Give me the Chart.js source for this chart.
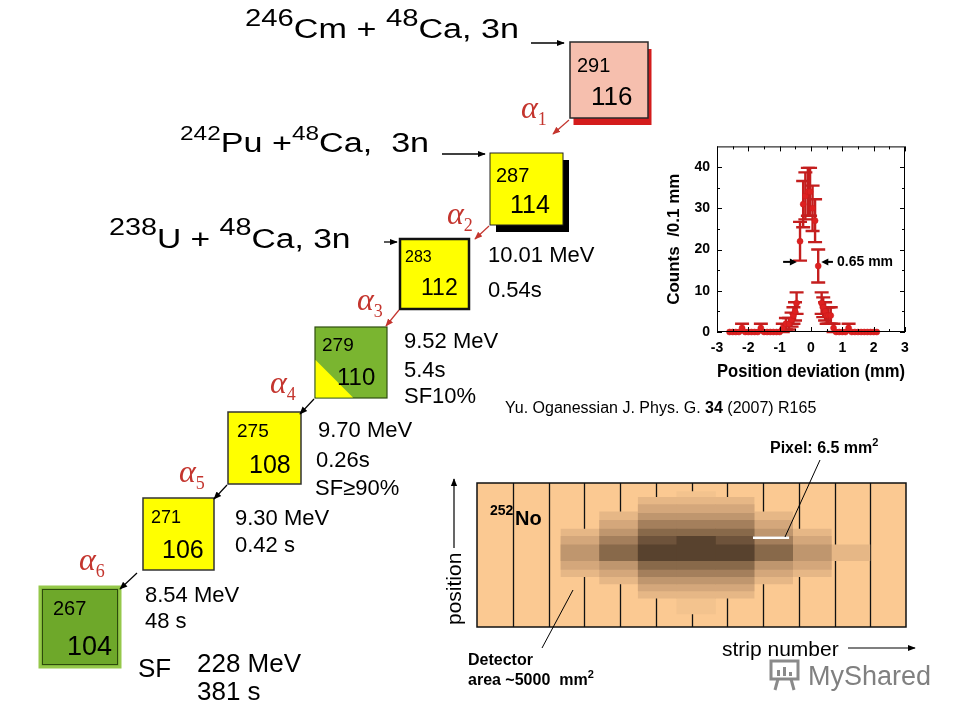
<!DOCTYPE html>
<html>
<head>
<meta charset="utf-8">
<title>Element 116 decay chain</title>
<script src="https://cdn.jsdelivr.net/npm/chart.js@4.4.0/dist/chart.umd.min.js"></script>
<style>
  html, body { margin: 0; padding: 0; background: #fff; }
  #page { position: relative; width: 960px; height: 720px; overflow: hidden; }
  #countsChart { position: absolute; left: 660px; top: 131px; }
  #stripChart { position: absolute; left: 470px; top: 476px; }
  #art { position: absolute; left: 0; top: 0; }
  #art text { white-space: pre; }
</style>
</head>
<body>
<div id="page">
  <canvas id="countsChart" width="260" height="256"></canvas>
  <canvas id="stripChart" width="444" height="158"></canvas>

  <svg id="art" width="960" height="720" xmlns="http://www.w3.org/2000/svg">
    <defs>
      <marker id="hb" viewBox="0 0 10 10" refX="9" refY="5" markerWidth="8" markerHeight="8" markerUnits="userSpaceOnUse" orient="auto">
        <path d="M0,1 L10,5 L0,9 z" fill="#000"/>
      </marker>
      <marker id="hr" viewBox="0 0 10 10" refX="9" refY="5" markerWidth="8" markerHeight="8" markerUnits="userSpaceOnUse" orient="auto">
        <path d="M0,1 L10,5 L0,9 z" fill="#c4352e"/>
      </marker>
    </defs>

    <g font-family="'Liberation Sans', Arial, sans-serif" fill="#000">
      <!-- reactions -->
      <g transform="translate(245,38) scale(1.22,1)">
        <text font-size="28"><tspan font-size="24" dy="-12">246</tspan><tspan dy="12">Cm + </tspan><tspan font-size="24" dy="-12">48</tspan><tspan dy="12">Ca, 3n</tspan></text>
      </g>
      <g transform="translate(180,152) scale(1.22,1)">
        <text font-size="28"><tspan font-size="20" dy="-12">242</tspan><tspan dy="12">Pu +</tspan><tspan font-size="20" dy="-12">48</tspan><tspan dy="12">Ca,&#160; 3n</tspan></text>
      </g>
      <g transform="translate(109,248) scale(1.2,1)">
        <text font-size="28"><tspan font-size="24" dy="-13">238</tspan><tspan dy="13">U + </tspan><tspan font-size="24" dy="-13">48</tspan><tspan dy="13">Ca, 3n</tspan></text>
      </g>
      <line x1="531" y1="43" x2="564" y2="43" stroke="#000" stroke-width="1.3" marker-end="url(#hb)"/>
      <line x1="442" y1="154" x2="485" y2="154" stroke="#000" stroke-width="1.3" marker-end="url(#hb)"/>
      <line x1="384" y1="242" x2="397" y2="242" stroke="#000" stroke-width="1.3" marker-end="url(#hb)"/>

      <!-- 291 116 -->
      <rect x="573.5" y="49" width="78" height="76" fill="#d41c1c"/>
      <rect x="570" y="42" width="78" height="76" fill="#f6bfae" stroke="#2a2a2a" stroke-width="1.5"/>
      <text x="577" y="72" font-size="20">291</text>
      <text x="591" y="105" font-size="26">116</text>

      <!-- 287 114 -->
      <rect x="496" y="160" width="73" height="72" fill="#000"/>
      <rect x="490" y="153" width="73" height="72" fill="#ffff00" stroke="#222" stroke-width="1"/>
      <text x="496" y="182" font-size="20">287</text>
      <text x="510" y="213" font-size="25">114</text>

      <!-- 283 112 -->
      <rect x="400" y="239" width="69" height="70" fill="#ffff00" stroke="#111" stroke-width="2.5"/>
      <text x="405" y="262" font-size="16">283</text>
      <text x="421" y="295" font-size="23">112</text>
      <text x="488" y="262" font-size="22">10.01 MeV</text>
      <text x="488" y="297" font-size="22">0.54s</text>

      <!-- 279 110 -->
      <rect x="315" y="327" width="72" height="71" fill="#7ab530" stroke="#2f4f0f" stroke-width="1.2"/>
      <polygon points="315.6,360 315.6,397.4 353,397.4" fill="#ffff00"/>
      <text x="322" y="351" font-size="19">279</text>
      <text x="337" y="385" font-size="24">110</text>
      <text x="404" y="348" font-size="22">9.52 MeV</text>
      <text x="404" y="377" font-size="22">5.4s</text>
      <text x="404" y="403" font-size="22">SF10%</text>

      <!-- 275 108 -->
      <rect x="228" y="412" width="73" height="72" fill="#ffff00" stroke="#333" stroke-width="1.5"/>
      <text x="237" y="437" font-size="19">275</text>
      <text x="249" y="473" font-size="25">108</text>
      <text x="318" y="437" font-size="22">9.70 MeV</text>
      <text x="316" y="467" font-size="22">0.26s</text>
      <text x="315" y="495" font-size="22">SF≥90%</text>

      <!-- 271 106 -->
      <rect x="143" y="498" width="71" height="72" fill="#ffff00" stroke="#333" stroke-width="1.5"/>
      <text x="151" y="523" font-size="18">271</text>
      <text x="162" y="558" font-size="25">106</text>
      <text x="235" y="525" font-size="22">9.30 MeV</text>
      <text x="235" y="552" font-size="22">0.42 s</text>

      <!-- 267 104 -->
      <rect x="40" y="587" width="80" height="80" fill="#6ea82a" stroke="#95c84a" stroke-width="3"/>
      <rect x="42.5" y="589.5" width="75" height="75" fill="none" stroke="#2d4a0c" stroke-width="1"/>
      <text x="53" y="615" font-size="20">267</text>
      <text x="67" y="655" font-size="27">104</text>
      <text x="145" y="602" font-size="22">8.54 MeV</text>
      <text x="145" y="628" font-size="22">48 s</text>
      <text x="138" y="677" font-size="26">SF</text>
      <text x="197" y="672" font-size="26">228 MeV</text>
      <text x="197" y="700" font-size="26">381 s</text>

      <!-- decay arrows -->
      <line x1="569" y1="120" x2="553" y2="134" stroke="#c4352e" stroke-width="1.2" marker-end="url(#hr)"/>
      <line x1="489" y1="226" x2="475" y2="239" stroke="#c4352e" stroke-width="1.2" marker-end="url(#hr)"/>
      <line x1="399" y1="310" x2="386" y2="326" stroke="#c4352e" stroke-width="1.2" marker-end="url(#hr)"/>
      <line x1="314" y1="399" x2="300" y2="414" stroke="#000" stroke-width="1.2" marker-end="url(#hb)"/>
      <line x1="227" y1="485" x2="214" y2="499" stroke="#000" stroke-width="1.2" marker-end="url(#hb)"/>
      <line x1="137" y1="573" x2="120" y2="589" stroke="#000" stroke-width="1.2" marker-end="url(#hb)"/>

      <!-- citation -->
      <text x="505" y="413" font-size="16">Yu. Oganessian J. Phys. G. <tspan font-weight="bold">34</tspan> (2007) R165</text>

      <!-- detector annotations -->
      <text x="490" y="515" font-size="14" font-weight="bold">252</text>
      <text x="515" y="525" font-size="20" font-weight="bold">No</text>
      <text transform="translate(461,625) rotate(-90)" font-size="21">position</text>
      <line x1="454" y1="548" x2="454" y2="479" stroke="#000" stroke-width="1.2" marker-end="url(#hb)"/>
      <text x="722" y="656" font-size="21">strip number</text>
      <line x1="848" y1="648" x2="915" y2="648" stroke="#000" stroke-width="1.2" marker-end="url(#hb)"/>
      <text x="770" y="453" font-size="16" font-weight="bold">Pixel: 6.5 mm<tspan font-size="11" dy="-7">2</tspan></text>
      <line x1="820" y1="460" x2="785" y2="537" stroke="#000" stroke-width="1"/>
      <text x="468" y="665" font-size="16" font-weight="bold">Detector</text>
      <text x="468" y="685" font-size="16" font-weight="bold">area ~5000&#160; mm<tspan font-size="11" dy="-7">2</tspan></text>
      <line x1="542" y1="648" x2="573" y2="590" stroke="#000" stroke-width="1"/>

      <!-- watermark -->
      <g stroke="#8a8a8a" fill="none" stroke-width="3">
        <rect x="771" y="661" width="27" height="18"/>
        <line x1="778" y1="679" x2="775" y2="690"/>
        <line x1="791" y1="679" x2="794" y2="690"/>
      </g>
      <g fill="#8a8a8a">
        <rect x="777" y="670" width="3" height="6"/>
        <rect x="783" y="667" width="3" height="9"/>
        <rect x="789" y="672" width="3" height="4"/>
      </g>
      <text x="808" y="685" font-size="27" fill="#808080">MyShared</text>
    </g>

    <g font-family="'Liberation Serif', 'Times New Roman', serif" fill="#c4352e" font-size="32">
      <text x="521" y="118"><tspan font-style="italic">α</tspan><tspan font-size="18" dy="7">1</tspan></text>
      <text x="447" y="224"><tspan font-style="italic">α</tspan><tspan font-size="18" dy="7">2</tspan></text>
      <text x="357" y="310"><tspan font-style="italic">α</tspan><tspan font-size="18" dy="7">3</tspan></text>
      <text x="270" y="393"><tspan font-style="italic">α</tspan><tspan font-size="18" dy="7">4</tspan></text>
      <text x="179" y="482"><tspan font-style="italic">α</tspan><tspan font-size="18" dy="7">5</tspan></text>
      <text x="79" y="570"><tspan font-style="italic">α</tspan><tspan font-size="18" dy="7">6</tspan></text>
    </g>
  </svg>
</div>

<script>
// Position spectrum of the recoils (counts per 0.1 mm)
const posX = [-2.6, -2.5, -2.4, -2.3, -2.2, -2.1, -2.0, -1.9, -1.8, -1.7,
              -1.6, -1.5, -1.4, -1.3, -1.2, -1.1, -1.0, -0.9, -0.8, -0.7,
              -0.62, -0.56, -0.51, -0.46, -0.35, -0.25, -0.18, -0.1, -0.03,
              0.05, 0.13, 0.23, 0.34, 0.39, 0.45, 0.5, 0.56, 0.63, 0.72, 0.8,
              0.9, 1.0, 1.1, 1.2, 1.3, 1.4, 1.5, 1.6, 1.7, 1.8, 1.9, 2.0, 2.1];
const counts = [0, 0, 0, 0, 1, 0, 0, 0, 0, 0,
                1, 0, 0, 0, 0, 0, 0, 1, 2, 2,
                3, 4, 5, 7, 22, 31, 33, 34, 34,
                30, 27, 16, 7, 6, 5, 4, 4, 4, 1, 0,
                0, 0, 0, 1, 0, 0, 0, 0, 0, 0, 0, 0, 0];
const errs = [0, 0, 0, 0, 1, 0, 0, 0, 0, 0,
              1, 0, 0, 0, 0, 0, 0, 1, 1.4, 1.4,
              1.7, 2, 2.2, 2.6, 4.7, 5.6, 5.7, 5.8, 5.8,
              5.5, 5.2, 4, 2.6, 2.4, 2.2, 2, 2, 2, 1, 0,
              0, 0, 0, 1, 0, 0, 0, 0, 0, 0, 0, 0, 0];
const xTicks = [-3, -2, -1, 0, 1, 2, 3];
const yTicks = [0, 10, 20, 30, 40];
const fwhm = { y: 17, leftFrom: -0.89, leftTo: -0.45, rightFrom: 0.7, rightTo: 0.33, labelX: 0.83, text: '0.65 mm' };

// Detector picture: strips and the 252No hit map (position 0..100 across the strip)
const stripEdges = [1, 2, 3, 4, 5, 6, 7, 8, 9, 10, 11];
const blobCols = [2.89, 3.97, 5.05, 6.13, 7.21, 8.29, 9.37, 10.45];
const layer0 = [null, null, null, [9, 94], null, null, null, null];
const layer1 = [[35, 68], [30, 80], [20, 90], [20, 90], [20, 90], [30, 80], [35, 68], [46, 57]];
const layer2 = [[40, 63], [35, 74], [25, 85], [25, 85], [25, 85], [35, 74], [40, 63], null];
const layer3 = [[46, 57], [40, 68], [30, 79], [30, 79], [30, 79], [40, 68], [46, 57], null];
const layer4 = [null, [46, 63], [35, 74], [35, 74], [35, 74], [46, 63], null, null];
const layer5 = [null, [46, 57], [40, 68], [40, 68], [40, 68], [46, 57], null, null];
const layer6 = [null, null, [46, 63], [46, 63], [46, 63], null, null, null];
const layer7 = [null, null, [46, 57], [46, 63], [46, 57], null, null, null];
const pixelMark = { x1: 7.72, x2: 8.73, y: 62 };

Chart.defaults.font.family = "'Liberation Sans', Arial, sans-serif";
Chart.defaults.color = '#000';

// --- counts vs position plot ---
function arrow(ctx, x1, y, x2) {
  const dir = x2 > x1 ? 1 : -1;
  ctx.beginPath();
  ctx.moveTo(x1, y);
  ctx.lineTo(x2 - dir * 4, y);
  ctx.stroke();
  ctx.beginPath();
  ctx.moveTo(x2, y);
  ctx.lineTo(x2 - dir * 7, y - 3.5);
  ctx.lineTo(x2 - dir * 7, y + 3.5);
  ctx.closePath();
  ctx.fill();
}

const plotExtras = {
  id: 'plotExtras',
  beforeDatasetsDraw(chart) {
    const { ctx, scales: { x, y } } = chart;
    ctx.save();
    ctx.strokeStyle = '#c41e1e';
    ctx.lineWidth = 2.4;
    posX.forEach((v, i) => {
      const e = errs[i];
      if (!e) return;
      const cx = x.getPixelForValue(v);
      const top = y.getPixelForValue(counts[i] + e);
      const bot = y.getPixelForValue(counts[i] - e);
      ctx.beginPath();
      ctx.moveTo(cx, top); ctx.lineTo(cx, bot);
      ctx.moveTo(cx - 7, top); ctx.lineTo(cx + 7, top);
      ctx.moveTo(cx - 7, bot); ctx.lineTo(cx + 7, bot);
      ctx.stroke();
    });
    ctx.restore();
  },
  afterDatasetsDraw(chart) {
    const { ctx, chartArea: a, scales: { x, y } } = chart;
    ctx.save();
    ctx.strokeStyle = '#000';
    ctx.lineWidth = 1;
    ctx.strokeRect(a.left + 0.5, a.top + 0.5, a.width - 1, a.height - 1);

    // inward ticks on all four sides
    const tick = (len, px, horizontal) => {
      ctx.beginPath();
      if (horizontal) {
        ctx.moveTo(px, a.bottom); ctx.lineTo(px, a.bottom - len);
        ctx.moveTo(px, a.top); ctx.lineTo(px, a.top + len);
      } else {
        ctx.moveTo(a.left, px); ctx.lineTo(a.left + len, px);
        ctx.moveTo(a.right, px); ctx.lineTo(a.right - len, px);
      }
      ctx.stroke();
    };
    xTicks.forEach((v, i) => {
      tick(5, Math.round(x.getPixelForValue(v)) + 0.5, true);
      if (i < xTicks.length - 1) tick(3, Math.round(x.getPixelForValue((v + xTicks[i + 1]) / 2)) + 0.5, true);
    });
    yTicks.forEach((v, i) => {
      tick(5, Math.round(y.getPixelForValue(v)) + 0.5, false);
      const next = i < yTicks.length - 1 ? yTicks[i + 1] : v + 10;
      if (y.getPixelForValue((v + next) / 2) > a.top + 2) tick(3, Math.round(y.getPixelForValue((v + next) / 2)) + 0.5, false);
    });

    // FWHM marker
    const py = y.getPixelForValue(fwhm.y);
    ctx.lineWidth = 2;
    ctx.fillStyle = '#000';
    arrow(ctx, x.getPixelForValue(fwhm.leftFrom), py, x.getPixelForValue(fwhm.leftTo));
    arrow(ctx, x.getPixelForValue(fwhm.rightFrom), py, x.getPixelForValue(fwhm.rightTo));
    ctx.font = "bold 14px 'Liberation Sans', Arial, sans-serif";
    ctx.textBaseline = 'middle';
    ctx.fillText(fwhm.text, x.getPixelForValue(fwhm.labelX), py);
    ctx.restore();
  }
};

new Chart(document.getElementById('countsChart'), {
  type: 'scatter',
  data: {
    datasets: [{
      data: posX.map((v, i) => ({ x: v, y: counts[i] })),
      pointRadius: 3,
      pointBackgroundColor: '#de2020',
      pointBorderColor: '#c81b1b',
      pointBorderWidth: 0.5,
      clip: false
    }]
  },
  options: {
    responsive: false,
    animation: false,
    events: [],
    layout: { padding: { top: 0, right: 15, left: 0, bottom: 0 } },
    plugins: { legend: { display: false }, tooltip: { enabled: false } },
    scales: {
      x: {
        type: 'linear',
        min: -3,
        max: 3,
        afterBuildTicks: s => { s.ticks = xTicks.map(v => ({ value: v })); },
        afterFit: s => { s.height = 55; },
        grid: { display: false, drawTicks: false },
        border: { display: false },
        ticks: { color: '#000', padding: 8, maxRotation: 0, autoSkip: false, font: { size: 14, weight: 'bold' } },
        title: { display: true, text: 'Position deviation (mm)', color: '#000', font: { size: 18, weight: 'bold' } }
      },
      y: {
        min: 0,
        max: 45,
        afterBuildTicks: s => { s.ticks = yTicks.map(v => ({ value: v })); },
        afterFit: s => { s.width = 57; },
        grid: { display: false, drawTicks: false },
        border: { display: false },
        ticks: { color: '#000', padding: 7, autoSkip: false, font: { size: 14, weight: 'bold' } },
        title: { display: true, text: 'Counts  /0.1 mm', color: '#000', font: { size: 17, weight: 'bold' } }
      }
    }
  },
  plugins: [plotExtras]
});

// --- detector strip picture ---
const layers = [layer0, layer1, layer2, layer3, layer4, layer5, layer6, layer7];
const layerColors = ['#f3c38e', '#e6b786', '#d4a77b', '#bf966e', '#a47f5c', '#88694a', '#6e533b', '#58422e'];

const stripFrame = {
  id: 'stripFrame',
  beforeDatasetsDraw(chart) {
    const { ctx, chartArea: a, scales: { x } } = chart;
    ctx.save();
    ctx.fillStyle = '#fbc992';
    ctx.fillRect(a.left, a.top, a.width, a.height);
    ctx.strokeStyle = '#111';
    ctx.lineWidth = 1.3;
    stripEdges.forEach(v => {
      const px = Math.round(x.getPixelForValue(v)) + 0.5;
      ctx.beginPath();
      ctx.moveTo(px, a.top);
      ctx.lineTo(px, a.bottom);
      ctx.stroke();
    });
    ctx.restore();
  },
  afterDatasetsDraw(chart) {
    const { ctx, chartArea: a, scales: { x, y } } = chart;
    ctx.save();
    ctx.strokeStyle = '#fff';
    ctx.lineWidth = 2.5;
    ctx.beginPath();
    ctx.moveTo(x.getPixelForValue(pixelMark.x1), y.getPixelForValue(pixelMark.y));
    ctx.lineTo(x.getPixelForValue(pixelMark.x2), y.getPixelForValue(pixelMark.y));
    ctx.stroke();
    ctx.strokeStyle = '#111';
    ctx.lineWidth = 1.5;
    ctx.strokeRect(a.left, a.top, a.width, a.height);
    ctx.restore();
  }
};

new Chart(document.getElementById('stripChart'), {
  type: 'bar',
  data: {
    datasets: layers.map((layer, i) => ({
      data: blobCols.map((c, j) => (layer[j] ? { x: c, y: layer[j] } : null)).filter(Boolean),
      backgroundColor: layerColors[i],
      borderWidth: 0,
      grouped: false,
      categoryPercentage: 1,
      barPercentage: 1,
      order: layers.length - i
    }))
  },
  options: {
    responsive: false,
    animation: false,
    events: [],
    layout: { padding: { left: 7, right: 8, top: 7, bottom: 7 } },
    plugins: { legend: { display: false }, tooltip: { enabled: false } },
    scales: {
      x: {
        type: 'linear',
        display: false,
        offset: false,
        min: 0,
        max: 12,
        afterBuildTicks: s => { s.ticks = [{ value: 0 }, { value: 12 }]; }
      },
      y: { display: false, min: 0, max: 100 }
    }
  },
  plugins: [stripFrame]
});
</script>
</body>
</html>
